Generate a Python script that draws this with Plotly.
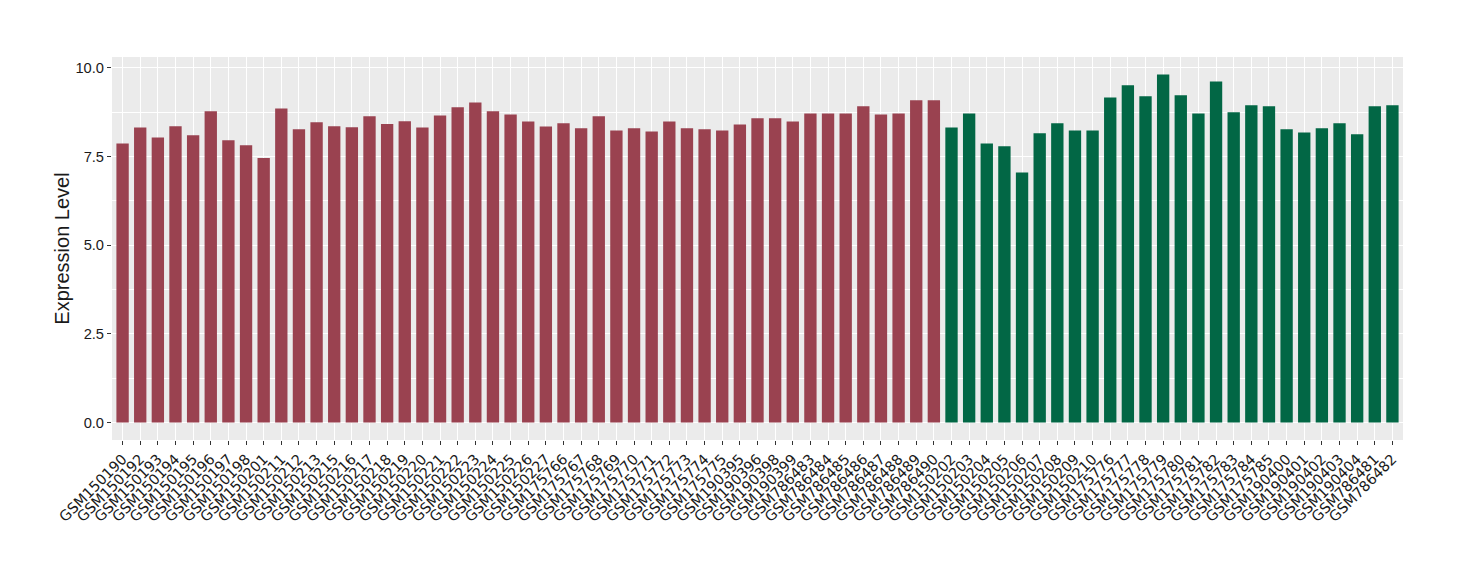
import plotly.graph_objects as go

# samples in plotting order
samples = [
    "GSM150190", "GSM150192", "GSM150193", "GSM150194", "GSM150195", "GSM150196",
    "GSM150197", "GSM150198", "GSM150201", "GSM150211", "GSM150212", "GSM150213",
    "GSM150215", "GSM150216", "GSM150217", "GSM150218", "GSM150219", "GSM150220",
    "GSM150221", "GSM150222", "GSM150223", "GSM150224", "GSM150225", "GSM150226",
    "GSM150227", "GSM175766", "GSM175767", "GSM175768", "GSM175769", "GSM175770",
    "GSM175771", "GSM175772", "GSM175773", "GSM175774", "GSM175775", "GSM190395",
    "GSM190396", "GSM190398", "GSM190399", "GSM786483", "GSM786484", "GSM786485",
    "GSM786486", "GSM786487", "GSM786488", "GSM786489", "GSM786490",
    "GSM150202", "GSM150203", "GSM150204", "GSM150205", "GSM150206", "GSM150207",
    "GSM150208", "GSM150209", "GSM150210", "GSM175776", "GSM175777", "GSM175778",
    "GSM175779", "GSM175780", "GSM175781", "GSM175782", "GSM175783", "GSM175784",
    "GSM175785", "GSM190400", "GSM190401", "GSM190402", "GSM190403", "GSM190404",
    "GSM786481", "GSM786482",
]

expression = [
    7.87, 8.32, 8.04, 8.36, 8.10, 8.78, 7.96, 7.82, 7.46, 8.86, 8.27, 8.47,
    8.36, 8.33, 8.64, 8.42, 8.50, 8.32, 8.66, 8.89, 9.03, 8.78, 8.69, 8.49,
    8.35, 8.44, 8.30, 8.64, 8.24, 8.30, 8.21, 8.49, 8.30, 8.27, 8.24, 8.41,
    8.58, 8.58, 8.49, 8.72, 8.72, 8.72, 8.92, 8.69, 8.72, 9.09, 9.09,
    8.32, 8.72, 7.87, 7.79, 7.05, 8.16, 8.44, 8.24, 8.24, 9.17, 9.51, 9.20,
    9.82, 9.23, 8.72, 9.62, 8.75, 8.95, 8.92, 8.27, 8.18, 8.30, 8.44, 8.13,
    8.92, 8.95,
]

group = ["A"] * 47 + ["B"] * 26

GROUP_COLOURS = {"A": "#9A4250", "B": "#026745"}

fig = go.Figure(
    go.Bar(
        x=samples,
        y=expression,
        width=0.7,
        marker=dict(color=[GROUP_COLOURS[g] for g in group], line=dict(width=0)),
        showlegend=False,
    )
)

# page body adds an 8px offset, so the figure is drawn 8px smaller
fig.update_layout(
    width=1452,
    height=572,
    margin=dict(l=104, r=57, t=49, b=140),
    paper_bgcolor="white",
    plot_bgcolor="#EBEBEB",
    font=dict(family="Liberation Sans, Arial, sans-serif", color="#1a1a1a"),
    xaxis=dict(
        range=[-0.6, len(samples) - 0.4],
        tickmode="linear",
        dtick=1,
        tickangle=-45,
        tickfont=dict(family="DejaVu Sans", size=14.5, color="#1a1a1a"),
        ticks="outside",
        ticklen=4,
        tickcolor="#333333",
        showgrid=True,
        gridcolor="white",
        gridwidth=1.1,
        zeroline=False,
        showline=False,
        automargin=False,
    ),
    yaxis=dict(
        range=[-0.49, 10.31],
        tick0=0,
        dtick=2.5,
        tickformat=".1f",
        tickfont=dict(size=14.7, color="#1a1a1a"),
        ticks="outside",
        ticklen=4,
        tickcolor="#333333",
        showgrid=True,
        gridcolor="white",
        gridwidth=1.1,
        minor=dict(dtick=1.25, showgrid=True, gridcolor="white", gridwidth=0.5),
        zeroline=False,
        showline=False,
        automargin=False,
        title=dict(text="Expression Level", font=dict(size=20, color="#1a1a1a"), standoff=0),
    ),
    bargap=0.3,
)

fig.write_html("out.html")
